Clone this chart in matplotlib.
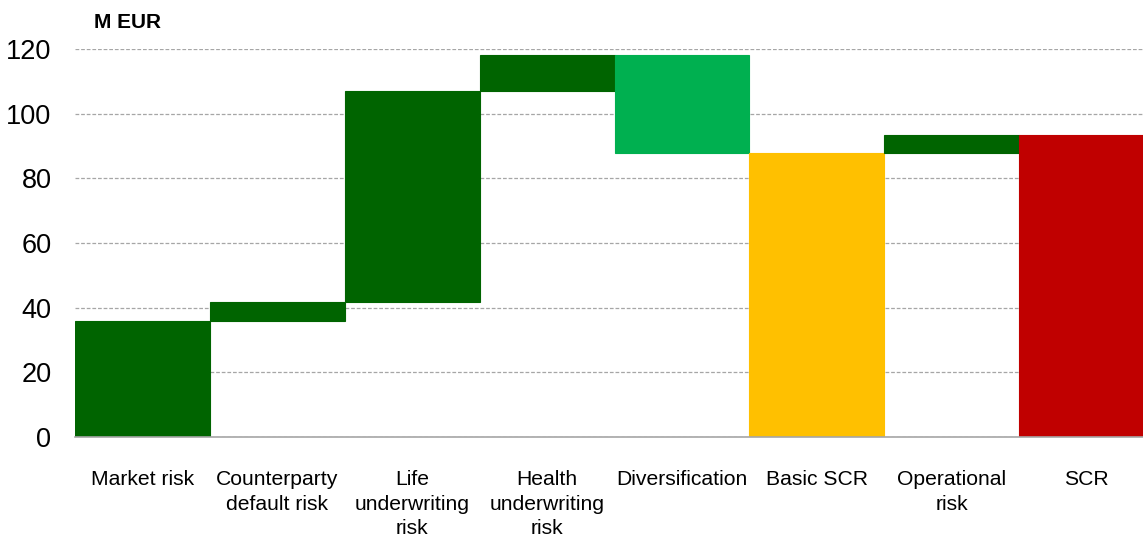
import matplotlib as mpl
mpl.use('Agg')
import matplotlib.pyplot as plt
import numpy as np

# Waterfall data (M EUR)
categories = ['Market risk', 'Counterparty\ndefault risk', 'Life\nunderwriting\nrisk',
              'Health\nunderwriting\nrisk', 'Diversification', 'Basic SCR',
              'Operational\nrisk', 'SCR']
deltas = [35.8, 6.0, 65.2, 11.1, -30.3, None, 5.5, None]  # None = total bar
colors = ['#006400', '#006400', '#006400', '#006400', '#00B050', '#FFC000',
          '#006400', '#C00000']
yticks = [0, 20, 40, 60, 80, 100, 120]

plt.rcParams['font.family'] = ['Liberation Sans', 'DejaVu Sans']

fig = plt.figure(figsize=(11.43, 5.37), dpi=100)
# axes runs a little past the right edge of the image, like the original
ax = fig.add_axes([75 / 1143, 1 - 437 / 537, (1154 - 75) / 1143, (437 - 49) / 537])

running = 0.0
for i, d in enumerate(deltas):
    if d is None:
        bottom, height = 0.0, running
    else:
        bottom = running if d >= 0 else running + d
        height = abs(d)
        running += d
    ax.bar(i, height, bottom=bottom, width=1.0, color=colors[i],
           edgecolor=colors[i], linewidth=0.8, zorder=3)

ax.set_xlim(-0.5, len(categories) - 0.5)
ax.set_ylim(0, 120)
ax.set_yticks(yticks)
ax.set_yticklabels([str(t) for t in yticks], fontsize=19.5)
ax.set_xticks(np.arange(len(categories)))
ax.set_xticklabels(categories, fontsize=15.2, linespacing=1.35, va='top')
ax.tick_params(axis='y', length=0, pad=17)
ax.tick_params(axis='x', length=0, pad=24)

ax.yaxis.grid(True, linestyle=(0, (3, 1.5)), color='#a6a6a6', linewidth=0.9, zorder=0)
for s in ['top', 'right', 'left']:
    ax.spines[s].set_visible(False)
ax.spines['bottom'].set_color('#a6a6a6')
ax.spines['bottom'].set_linewidth(1.2)
ax.spines['bottom'].set_zorder(4)

fig.text(94 / 1143, 1 - 23 / 537, 'M EUR', fontsize=15, fontweight='bold', va='center')

fig.savefig('out.png', dpi=100)
plt.close('all')
